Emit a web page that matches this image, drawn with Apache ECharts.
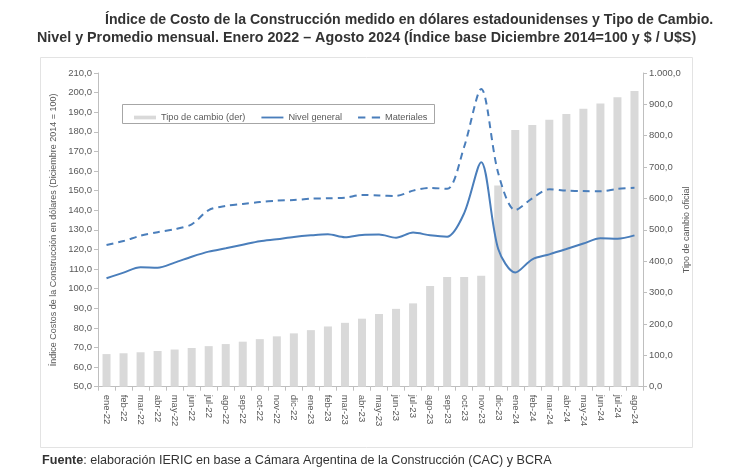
<!DOCTYPE html>
<html><head><meta charset="utf-8">
<script src="https://cdn.jsdelivr.net/npm/echarts@6/dist/echarts.min.js"></script>
<style>html,body{margin:0;padding:0;background:#fff}#c{width:730px;height:476px}</style>
</head><body><div id="c"></div>
<script>
const categories = ['ene-22','feb-22','mar-22','abr-22','may-22','jun-22','jul-22','ago-22','sep-22','oct-22','nov-22','dic-22',
'ene-23','feb-23','mar-23','abr-23','may-23','jun-23','jul-23','ago-23','sep-23','oct-23','nov-23','dic-23',
'ene-24','feb-24','mar-24','abr-24','may-24','jun-24','jul-24','ago-24'];
const tipoCambio = [104,106.6,109.8,113.9,118.5,123.4,129.3,135.9,143.5,151.6,160.5,170.0,
180.3,192.0,203.6,216.8,231.8,248.1,265.6,321,349.5,350,353.5,641,
818,834,851,869,886,903,923,943];
const nivelGeneral = [105.3,108.2,110.9,110.7,113.3,116.3,118.9,120.6,122.4,124.2,125.2,126.4,
127.2,127.7,126.2,127.4,127.6,126.0,128.6,127.2,126.5,138.5,164.5,120.2,
108.2,115.0,117.5,120.2,123.0,125.7,125.5,127.2];
const materiales = [122.3,124.3,127.0,128.8,130.3,132.8,140.1,142.2,143.2,144.2,144.9,145.2,
145.9,146.1,146.4,147.8,147.5,147.3,150.0,151.4,150.9,172.4,201.9,158.9,
140.1,146.1,150.7,150.0,149.8,149.7,150.9,151.5];
const leftTicks = {min:50, max:210, interval:10};
const rightTicks = {min:0, max:1000, interval:100};

function fmt(v){
  const s = v.toFixed(1).split('.');
  const int = s[0].replace(/\B(?=(\d{3})+(?!\d))/g,'.');
  return int + ',' + s[1];
}
const lblColor = '#595959';
const axisLineColor = '#bfbfbf';
const lineColor = '#4a7ebb';
const ff = '"Liberation Sans", Arial, sans-serif';

const chart = echarts.init(document.getElementById('c'), null, {renderer:'canvas'});
chart.setOption({
  animation:false,
  textStyle:{fontFamily:ff},
  title:[
    {text:'Índice de Costo de la Construcción medido en dólares estadounidenses y Tipo de Cambio.', left:100, top:8,
     textStyle:{fontSize:14.1, fontWeight:'bold', color:'#333', fontFamily:ff}},
    {text:'Nivel y Promedio mensual. Enero 2022 – Agosto 2024 (Índice base Diciembre 2014=100 y $ / U$S)', left:32, top:26,
     textStyle:{fontSize:14.3, fontWeight:'bold', color:'#333', fontFamily:ff}},
    {text:'{b|Fuente}: elaboración IERIC en base a Cámara Argentina de la Construcción (CAC) y BCRA', left:37, top:449,
     textStyle:{fontSize:12.6, fontWeight:'normal', color:'#333', fontFamily:ff,
       rich:{b:{fontSize:12.6, fontWeight:'bold', color:'#333', fontFamily:ff}}}}
  ],
  graphic:[
    {type:'rect', shape:{x:40.5, y:57.5, width:652, height:390}, style:{fill:'none', stroke:'#e3e3e3', lineWidth:1}, z:-1},
    {type:'rect', shape:{x:122.5, y:104.5, width:312, height:19}, style:{fill:'#fff', stroke:'#a6a6a6', lineWidth:1}, z:5}
  ],
  legend:{
    left:129, top:108, itemGap:16, itemWidth:22, itemHeight:4, z:10,
    textStyle:{fontSize:9.2, color:lblColor, fontFamily:ff},
    data:[
      {name:'Tipo de cambio (der)', icon:'path://M0 0 H24 V4 H0 Z', itemStyle:{color:'#d9d9d9'}},
      {name:'Nivel general', icon:'path://M0 1 H24 V3 H0 Z', itemStyle:{color:lineColor}},
      {name:'Materiales', icon:'path://M0 1 H8 V3 H0 Z M15 1 H24 V3 H15 Z', itemStyle:{color:lineColor}}
    ]
  },
  grid:{left:98, right:87, top:73, bottom:89.3, containLabel:false},
  xAxis:{
    type:'category', data:categories, boundaryGap:true,
    axisLine:{lineStyle:{color:axisLineColor}},
    axisTick:{show:true, alignWithLabel:false, length:4, lineStyle:{color:axisLineColor}},
    axisLabel:{rotate:-90, interval:0, fontSize:9.5, color:lblColor, margin:8, fontFamily:ff}
  },
  yAxis:[
    {type:'value', min:leftTicks.min, max:leftTicks.max, interval:leftTicks.interval,
     name:'Índice Costos de la Construcción en dólares (Diciembre 2014 = 100)',
     nameLocation:'middle', nameGap:40, nameRotate:90, nameMoveOverlap:false,
     nameTextStyle:{fontSize:9, color:lblColor, fontFamily:ff},
     axisLine:{show:true, lineStyle:{color:axisLineColor}},
     axisTick:{show:true, length:4, lineStyle:{color:axisLineColor}},
     splitLine:{show:false},
     axisLabel:{formatter:fmt, fontSize:9.5, color:lblColor, margin:6, fontFamily:ff}},
    {type:'value', min:rightTicks.min, max:rightTicks.max, interval:rightTicks.interval, position:'right',
     name:'Tipo de cambio oficial',
     nameLocation:'middle', nameGap:39, nameRotate:90, nameMoveOverlap:false,
     nameTextStyle:{fontSize:9, color:lblColor, fontFamily:ff},
     axisLine:{show:true, lineStyle:{color:axisLineColor}},
     axisTick:{show:true, length:4, lineStyle:{color:axisLineColor}},
     splitLine:{show:false},
     axisLabel:{formatter:fmt, fontSize:9.5, color:lblColor, margin:6, fontFamily:ff}}
  ],
  series:[
    {name:'Tipo de cambio (der)', type:'bar', yAxisIndex:1, data:tipoCambio, barWidth:8,
     itemStyle:{color:'#d9d9d9'}, z:1},
    {name:'Nivel general', type:'line', yAxisIndex:0, data:nivelGeneral, smooth:0.3, symbol:'none',
     lineStyle:{color:lineColor, width:2}, itemStyle:{color:lineColor}, z:3},
    {name:'Materiales', type:'line', yAxisIndex:0, data:materiales, smooth:0.3, symbol:'none',
     lineStyle:{color:lineColor, width:2, type:[7,5]}, itemStyle:{color:lineColor}, z:3}
  ]
});
</script></body></html>
